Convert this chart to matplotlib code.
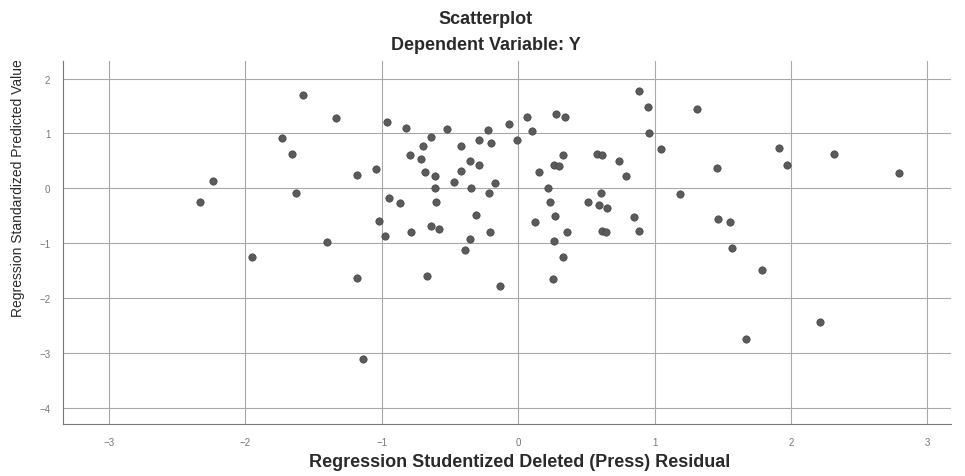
import numpy as np
import matplotlib
matplotlib.use("Agg")
import matplotlib.pyplot as plt

plt.rcParams['font.family'] = ['Liberation Sans', 'DejaVu Sans']

# Studentized deleted residual (x) vs standardized predicted value (y)
residual = [
    -2.33, -2.24, -1.95, -1.73, -1.66, -1.63, -1.575, -1.40, -1.335, -1.18,
    -1.18, -1.14, -1.045, -1.02, -0.975, -0.96, -0.947, -0.865, -0.82, -0.79,
    -0.787, -0.71, -0.70, -0.68, -0.67, -0.64, -0.636, -0.61, -0.607, -0.60,
    -0.582, -0.523, -0.472, -0.42, -0.417, -0.387, -0.357, -0.355, -0.343, -0.308,
    -0.289, -0.289, -0.225, -0.215, -0.21, -0.20, -0.171, -0.137, -0.067, -0.007,
    0.064, 0.10, 0.122, 0.154, 0.217, 0.23, 0.253, 0.264, 0.265, 0.272,
    0.278, 0.30, 0.325, 0.33, 0.346, 0.356, 0.509, 0.58, 0.592, 0.606,
    0.612, 0.616, 0.645, 0.648, 0.739, 0.794, 0.849, 0.885, 0.888, 0.95,
    0.962, 1.05, 1.183, 1.311, 1.46, 1.465, 1.555, 1.564, 1.673, 1.79,
    1.91, 1.97, 2.21, 2.316, 2.795,
]
predicted = [
    -0.24, 0.13, -1.24, 0.91, 0.62, -0.09, 1.70, -0.98, 1.28, 0.24,
    -1.64, -3.10, 0.36, -0.59, -0.87, 1.21, -0.18, -0.26, 1.10, 0.61,
    -0.79, 0.54, 0.77, 0.30, -1.60, -0.68, 0.94, 0.23, 0.00, -0.24,
    -0.74, 1.09, 0.12, 0.31, 0.77, -1.12, 0.50, -0.92, 0.01, -0.48,
    0.89, 0.43, 1.07, -0.09, -0.80, 0.82, 0.10, -1.78, 1.17, 0.88,
    1.30, 1.04, -0.61, 0.30, 0.01, -0.24, -1.65, 0.43, -0.965, -0.50,
    1.36, 0.41, -1.245, 0.60, 1.30, -0.80, -0.24, 0.635, -0.31, -0.08,
    -0.775, 0.60, -0.80, -0.35, 0.50, 0.22, -0.52, 1.77, -0.78, 1.49,
    1.01, 0.72, -0.10, 1.44, 0.38, -0.56, -0.62, -1.085, -2.74, -1.48,
    0.73, 0.43, -2.43, 0.63, 0.28,
]
x_ticks = [-3, -2, -1, 0, 1, 2, 3]
y_ticks = [-4, -3, -2, -1, 0, 1, 2]

fig = plt.figure(figsize=(9.65, 4.77), dpi=100)
ax = fig.add_axes([0.065, 0.109, 0.920, 0.761])

ax.scatter(residual, predicted, s=28, color='#5b5b5b', edgecolors='#444444',
           linewidths=0.5, zorder=3)

ax.set_xlim(-3.34, 3.17)
ax.set_ylim(-4.29, 2.32)
ax.set_xticks(x_ticks)
ax.set_yticks(y_ticks)
ax.grid(True, color='#a8a8a8', linewidth=0.8)
ax.set_axisbelow(True)
ax.tick_params(length=0, labelsize=7, labelcolor='#777777', pad=9)

for side in ['top', 'right']:
    ax.spines[side].set_visible(False)
for side in ['left', 'bottom']:
    ax.spines[side].set_color('#777777')
    ax.spines[side].set_linewidth(0.8)

# titulos e rotulos no estilo do SPSS
fig.text(0.503, 1 - 19 / 477, 'Scatterplot', ha='center', va='center',
         fontsize=13, fontweight='bold', color='#2a2a2a')
fig.text(0.503, 1 - 45 / 477, 'Dependent Variable: Y', ha='center', va='center',
         fontsize=13, fontweight='bold', color='#2a2a2a')
fig.text(0.538, 1 - 463 / 477, 'Regression Studentized Deleted (Press) Residual',
         ha='center', va='center', fontsize=13, fontweight='bold', color='#2a2a2a')
fig.text(18 / 965, 1 - 188 / 477, 'Regression Standardized Predicted Value',
         ha='center', va='center', rotation=90, fontsize=10, color='#2a2a2a')

fig.savefig('out.png', dpi=100)
